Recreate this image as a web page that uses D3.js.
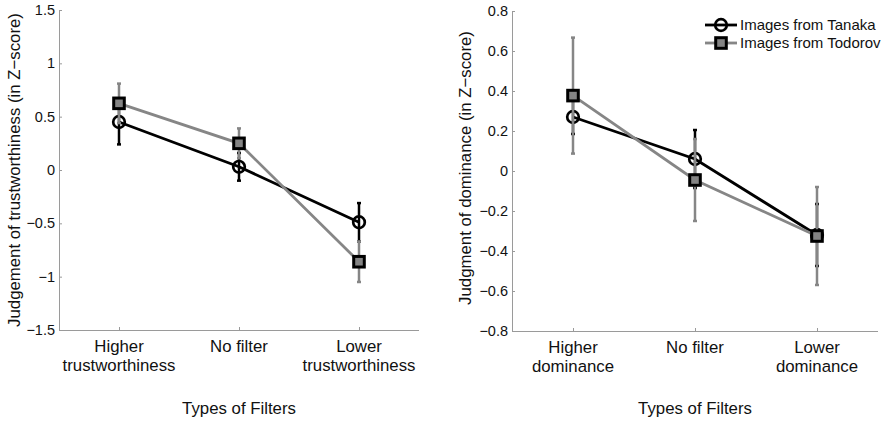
<!DOCTYPE html>
<html>
<head>
<meta charset="utf-8">
<script src="https://cdn.jsdelivr.net/npm/d3@7"></script>
<style>
  body { margin: 0; background: #fff; }
  svg text { font-family: "Liberation Sans", Arial, sans-serif; fill: #111; }
</style>
</head>
<body>
<div id="chart"></div>
<script>
// values
var filterPos = [1, 2, 3]

var trustTicks = [-1.5, -1, -0.5, 0, 0.5, 1, 1.5]
var trustCats = [['Higher', 'trustworthiness'], ['No filter'], ['Lower', 'trustworthiness']]
var trustTanaka = [0.45, 0.03, -0.49]
var trustTanakaErr = [0.21, 0.13, 0.18]
var trustTodorov = [0.625, 0.25, -0.86]
var trustTodorovErr = [0.185, 0.14, 0.19]

var domTicks = [-0.8, -0.6, -0.4, -0.2, 0, 0.2, 0.4, 0.6, 0.8]
var domCats = [['Higher', 'dominance'], ['No filter'], ['Lower', 'dominance']]
var domTanaka = [0.27, 0.06, -0.32]
var domTanakaErr = [0.085, 0.145, 0.155]
var domTodorov = [0.377, -0.045, -0.325]
var domTodorovErr = [0.29, 0.205, 0.245]

var seriesNames = ['Images from Tanaka', 'Images from Todorov']

var black = '#000'
var gray = '#868686'
var axisColor = '#9a9a9a'

var svg = d3.select('#chart').append('svg')
    .attr('width', 892)
    .attr('height', 423)

function fmt(v) {
    return d3.format('')(v).replace('-', '\u2212')
}

function drawPanel(opts) {
    var x = d3.scaleLinear().domain([0.5, 3.5]).range([opts.left, opts.right])
    var y = d3.scaleLinear().domain(opts.yDomain).range([opts.bottom, opts.top])
    var g = svg.append('g')

    // axes
    var yAxis = g.append('g')
        .attr('transform', 'translate(' + opts.left + ',0)')
        .call(d3.axisLeft(y).tickValues(opts.ticks).tickSize(-3).tickPadding(4).tickFormat(fmt))
    var xAxis = g.append('g')
        .attr('transform', 'translate(0,' + opts.bottom + ')')
        .call(d3.axisBottom(x).tickValues(filterPos).tickSize(-3).tickFormat(''))
    g.selectAll('.domain').attr('stroke', axisColor).attr('d', null)
    yAxis.select('.domain').attr('d', 'M0.5,' + opts.top + 'V' + (opts.bottom + 0.5))
    xAxis.select('.domain').attr('d', 'M' + opts.left + ',0.5H' + opts.right)
    g.selectAll('.tick line').attr('stroke', axisColor)
    yAxis.selectAll('.tick text').style('font-size', '14.5px').attr('fill', '#111')

    // category labels
    filterPos.forEach(function (p, i) {
        var lines = opts.cats[i]
        var t = g.append('text')
            .attr('x', x(p))
            .attr('y', opts.bottom + 22)
            .attr('text-anchor', 'middle')
            .style('font-size', '16.8px')
        lines.forEach(function (l, j) {
            t.append('tspan').attr('x', x(p)).attr('dy', j == 0 ? 0 : 19).text(l)
        })
    })

    g.append('text')
        .attr('x', (opts.left + opts.right) / 2)
        .attr('y', 414)
        .attr('text-anchor', 'middle')
        .style('font-size', '16.8px')
        .text('Types of Filters')

    g.append('text')
        .attr('transform', 'translate(' + opts.labelX + ',' + opts.labelY + ') rotate(-90)')
        .attr('text-anchor', 'middle')
        .style('font-size', '16.8px')
        .text(opts.yLabel)

    var line = d3.line().x(function (d, i) { return x(filterPos[i]) }).y(function (d) { return y(d) })

    var series = [
        { vals: opts.tanaka, err: opts.tanakaErr, color: black, marker: 'circle' },
        { vals: opts.todorov, err: opts.todorovErr, color: gray, marker: 'square' }
    ]

    series.forEach(function (s) {
        var eb = g.append('g')
        s.vals.forEach(function (v, i) {
            var cx = x(filterPos[i])
            eb.append('line')
                .attr('x1', cx).attr('x2', cx)
                .attr('y1', y(v - s.err[i])).attr('y2', y(v + s.err[i]))
                .attr('stroke', s.color).attr('stroke-width', 2.5)
            ;[v - s.err[i], v + s.err[i]].forEach(function (e) {
                eb.append('line')
                    .attr('x1', cx - 2).attr('x2', cx + 2)
                    .attr('y1', y(e)).attr('y2', y(e))
                    .attr('stroke', s.color).attr('stroke-width', 2.5)
            })
        })
        g.append('path')
            .attr('d', line(s.vals))
            .attr('fill', 'none')
            .attr('stroke', s.color)
            .attr('stroke-width', 2.8)
        s.vals.forEach(function (v, i) {
            drawMarker(g, s.marker, x(filterPos[i]), y(v))
        })
    })
}

function drawMarker(g, type, cx, cy) {
    if (type == 'circle') {
        g.append('circle')
            .attr('cx', cx).attr('cy', cy).attr('r', 5.8)
            .attr('fill', 'none')
            .attr('stroke', black).attr('stroke-width', 2.7)
    } else {
        g.append('rect')
            .attr('x', cx - 5.3).attr('y', cy - 5.3)
            .attr('width', 10.6).attr('height', 10.6)
            .attr('fill', '#848484')
            .attr('stroke', black).attr('stroke-width', 3)
    }
}

drawPanel({
    left: 59, right: 419, top: 10, bottom: 330,
    yDomain: [-1.5, 1.5], ticks: trustTicks, cats: trustCats,
    yLabel: 'Judgement of trustworthiness (in Z\u2212score)', labelX: 20, labelY: 170,
    tanaka: trustTanaka, tanakaErr: trustTanakaErr,
    todorov: trustTodorov, todorovErr: trustTodorovErr
})

drawPanel({
    left: 512, right: 878, top: 11, bottom: 331,
    yDomain: [-0.8, 0.8], ticks: domTicks, cats: domCats,
    yLabel: 'Judgment of dominance (in Z\u2212score)', labelX: 471, labelY: 168,
    tanaka: domTanaka, tanakaErr: domTanakaErr,
    todorov: domTodorov, todorovErr: domTodorovErr
})

// legend
var legend = svg.append('g')
var legendY = [25, 43]
seriesNames.forEach(function (name, i) {
    var c = i == 0 ? black : gray
    legend.append('line')
        .attr('x1', 705).attr('x2', 737)
        .attr('y1', legendY[i]).attr('y2', legendY[i])
        .attr('stroke', c).attr('stroke-width', 2.8)
    drawMarker(legend, i == 0 ? 'circle' : 'square', 721, legendY[i])
    legend.append('text')
        .attr('x', 740)
        .attr('y', legendY[i] + 5)
        .style('font-size', '15px')
        .text(name)
})
</script>
</body>
</html>
